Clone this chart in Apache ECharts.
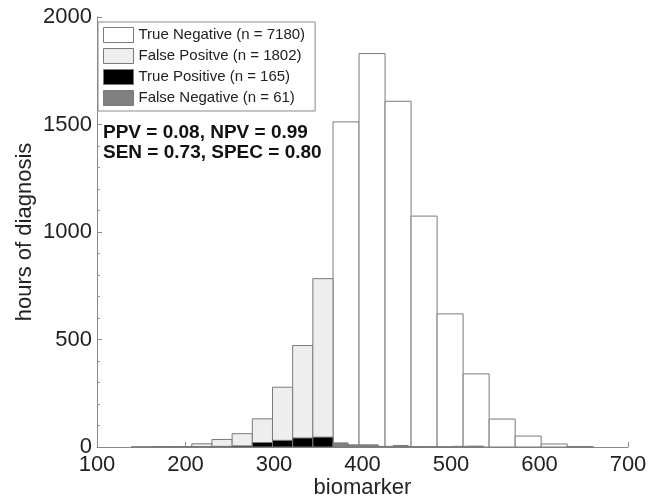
<!DOCTYPE html>
<html>
<head>
<meta charset="utf-8">
<script src="https://cdn.jsdelivr.net/npm/echarts@6/dist/echarts.min.js"></script>
<style>
  html, body { margin: 0; padding: 0; background: #fff; }
  #chart { width: 648px; height: 500px; }
</style>
</head>
<body>
<div id="chart"></div>
<script>
// bin edges (each group has its own 10 bins)
var tnEdges = [366.7, 396.1, 425.5, 454.9, 484.3, 513.7, 543.1, 572.5, 601.9, 631.3, 660.7];
var tnCounts = [1512, 1830, 1608, 1074, 619, 340, 130, 51, 14, 2];

var posEdges = [138.7, 161.5, 184.3, 207.1, 229.9, 252.7, 275.5, 298.3, 321.1, 343.9, 366.7];
var fpCounts = [1, 2, 2, 15, 35, 62, 131, 278, 472, 783];
var tpCounts = [0, 1, 1, 1, 3, 5, 21, 31, 42, 46];

var fnEdges = [366.7, 383.7, 400.7, 417.7, 434.7, 451.7, 468.7, 485.7, 502.7, 519.7, 536.7];
var fnCounts = [19, 10, 10, 3, 7, 2, 2, 1, 3, 4];

var seriesNames = ['True Negative (n = 7180)', 'False Positve (n = 1802)', 'True Positive (n = 165)', 'False Negative (n = 61)'];
var yTicks = [0, 500, 1000, 1500, 2000];
var xTicks = [100, 200, 300, 400, 500, 600, 700];
var statsLines = ['PPV = 0.08, NPV = 0.99', 'SEN = 0.73, SPEC = 0.80'];

var font = '"Liberation Sans", Arial, sans-serif';

function toBins(edges, counts) {
    var out = [];
    for (var i = 0; i < counts.length; i++) {
        out.push([edges[i], edges[i + 1], counts[i]]);
    }
    return out;
}

function renderBar(params, api) {
    var h = api.value(2);
    if (!h) return null;
    var p0 = api.coord([api.value(0), h]);
    var p1 = api.coord([api.value(1), 0]);
    return {
        type: 'rect',
        shape: { x: p0[0], y: p0[1], width: p1[0] - p0[0], height: p1[1] - p0[1] },
        style: api.style()
    };
}

function histSeries(name, data, fill) {
    return {
        name: name,
        type: 'custom',
        renderItem: renderBar,
        encode: { x: [0, 1], y: 2 },
        itemStyle: { color: fill, borderColor: '#7a7a7a', borderWidth: 1 },
        data: data
    };
}

// no thousands separator on tick labels
function plain(v) {
    return String(v);
}

var chart = echarts.init(document.getElementById('chart'));
chart.setOption({
    backgroundColor: '#fff',
    animation: false,
    textStyle: { fontFamily: font },
    grid: { left: 97, right: 20, top: 17, bottom: 53, outerBoundsMode: 'none' },
    legend: {
        orient: 'vertical',
        left: 98,
        top: 22,
        data: seriesNames,
        icon: 'rect',
        itemWidth: 30,
        itemHeight: 15,
        itemGap: 5,
        padding: [5, 10, 5, 5],
        backgroundColor: '#fff',
        borderColor: '#8a8a8a',
        borderWidth: 1,
        itemStyle: { borderColor: '#7a7a7a', borderWidth: 1 },
        textStyle: { fontSize: 15, color: '#222', fontFamily: font }
    },
    graphic: [
        {
            type: 'text',
            left: 103,
            top: 123,
            style: {
                text: statsLines.join('\n'),
                font: 'bold 19px ' + font,
                lineHeight: 20,
                fill: '#111'
            }
        }
    ],
    xAxis: {
        type: 'value',
        min: xTicks[0],
        max: xTicks[xTicks.length - 1],
        interval: 100,
        name: 'biomarker',
        nameLocation: 'middle',
        nameGap: 30,
        nameMoveOverlap: false,
        nameTextStyle: { fontSize: 22, color: '#222' },
        axisLine: { lineStyle: { color: '#888' } },
        axisTick: { inside: true, length: 5, lineStyle: { color: '#888' } },
        axisLabel: { fontSize: 22, color: '#222', margin: 7, formatter: plain },
        splitLine: { show: false }
    },
    yAxis: {
        type: 'value',
        min: yTicks[0],
        max: yTicks[yTicks.length - 1],
        interval: 500,
        name: 'hours of diagnosis',
        nameLocation: 'middle',
        nameGap: 61,
        nameMoveOverlap: false,
        nameTextStyle: { fontSize: 22, color: '#222' },
        axisLine: { show: true, lineStyle: { color: '#888' } },
        axisTick: { show: true, inside: true, length: 5, lineStyle: { color: '#888' } },
        minorTick: { show: true, splitNumber: 5, length: 3, lineStyle: { color: '#999' } },
        axisLabel: { fontSize: 22, color: '#222', margin: 5, formatter: plain },
        splitLine: { show: false }
    },
    series: [
        histSeries(seriesNames[0], toBins(tnEdges, tnCounts), '#ffffff'),
        histSeries(seriesNames[1], toBins(posEdges, fpCounts), '#eeeeee'),
        histSeries(seriesNames[2], toBins(posEdges, tpCounts), '#000000'),
        histSeries(seriesNames[3], toBins(fnEdges, fnCounts), '#808080')
    ]
});
</script>
</body>
</html>
